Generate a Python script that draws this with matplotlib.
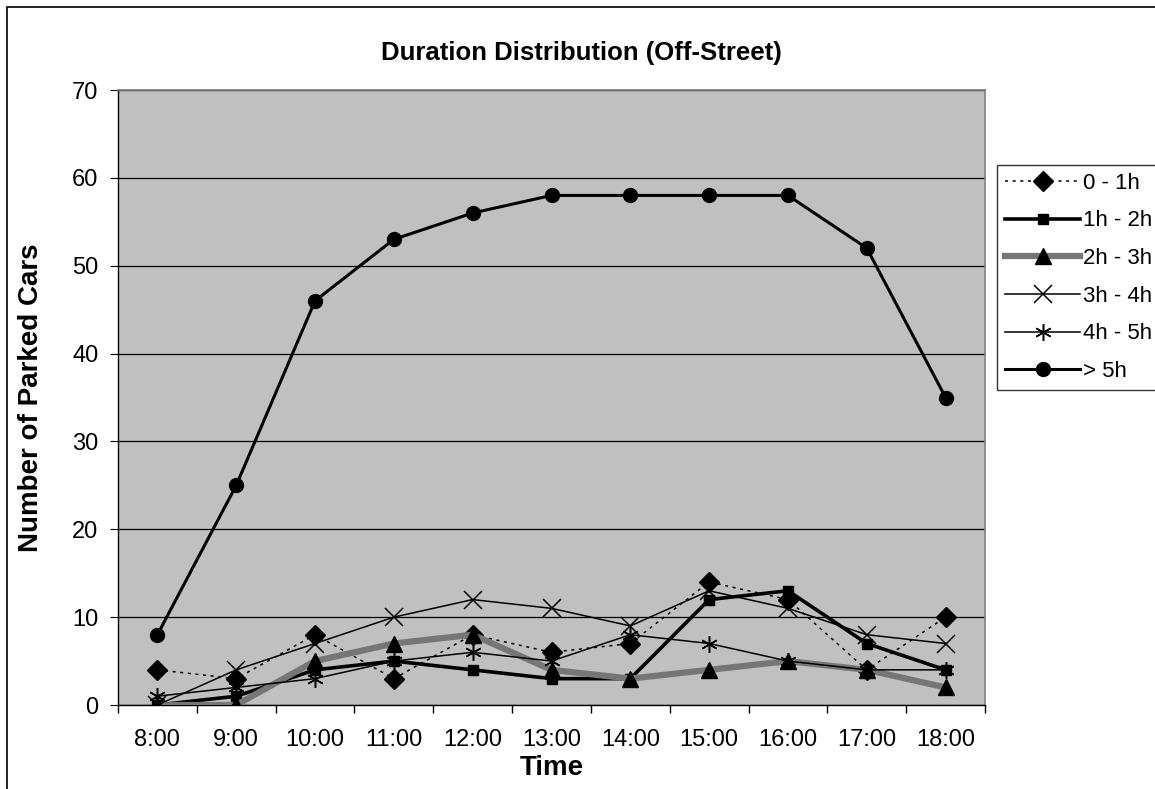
import matplotlib
matplotlib.use('Agg')
import matplotlib.pyplot as plt
from matplotlib.patches import Rectangle

plt.rcParams['font.family'] = ['Liberation Sans', 'DejaVu Sans']

# ===================== DATOS =====================
horas = ['8:00', '9:00', '10:00', '11:00', '12:00', '13:00',
         '14:00', '15:00', '16:00', '17:00', '18:00']
d_0_1 = [4, 3, 8, 3, 8, 6, 7, 14, 12, 4, 10]
d_1_2 = [0, 1, 4, 5, 4, 3, 3, 12, 13, 7, 4]
d_2_3 = [0, 0, 5, 7, 8, 4, 3, 4, 5, 4, 2]
d_3_4 = [0, 4, 7, 10, 12, 11, 9, 13, 11, 8, 7]
d_4_5 = [1, 2, 3, 5, 6, 5, 8, 7, 5, 4, 4]
d_5 = [8, 25, 46, 53, 56, 58, 58, 58, 58, 52, 35]

W, H = 1155, 789
fig = plt.figure(figsize=(W / 100, H / 100), dpi=100)
fig.patch.set_facecolor('white')
# marco exterior del grafico (solo bordes izquierdo y superior visibles)
fig.patches.append(Rectangle((7 / W, -0.1), 1.2, 1.1 - 7 / H,
                             transform=fig.transFigure, fill=False,
                             edgecolor='black', linewidth=1.2))

ax = fig.add_axes([118 / W, 1 - 705 / H, (985 - 118) / W, (705 - 90) / H])
ax.set_facecolor('#c0c0c0')

x = list(range(len(horas)))

ax.plot(x, d_0_1, color='black', linestyle=(0, (2, 3)), linewidth=1.1,
        marker='D', markersize=10, label='0 - 1h', zorder=3)
ax.plot(x, d_1_2, color='black', linewidth=2.6, marker='s', markersize=7.5,
        label='1h - 2h', zorder=3)
ax.plot(x, d_2_3, color='#767676', linewidth=4.5, marker='^', markersize=12,
        markerfacecolor='black', markeredgecolor='black', label='2h - 3h',
        zorder=3)
ax.plot(x, d_3_4, color='black', linewidth=1.1, marker='x', markersize=13,
        markeredgewidth=1.1, label='3h - 4h', zorder=3)
ax.plot(x, d_4_5, color='black', linewidth=1.1, marker=(6, 2, 0),
        markersize=12, markeredgewidth=1.1, label='4h - 5h', zorder=3)
ax.plot(x, d_5, color='black', linewidth=2.2, marker='o', markersize=10,
        label='> 5h', zorder=4)

ax.set_xlim(-0.5, len(horas) - 0.5)
ax.set_ylim(0, 70)
ax.set_yticks(range(0, 71, 10))
ax.yaxis.grid(True, color='black', linewidth=0.9)
ax.set_axisbelow(True)

ax.set_xticks(x)
ax.set_xticklabels(horas, fontsize=17)
ax.set_xticks([i - 0.5 for i in range(len(horas) + 1)], minor=True)
ax.tick_params(axis='x', which='major', length=0, pad=17)
ax.tick_params(axis='x', which='minor', length=6, direction='out', width=1)
ax.tick_params(axis='y', length=6, direction='out', labelsize=17, pad=8)

for s in ['top', 'right']:
    ax.spines[s].set_color('#808080')
    ax.spines[s].set_linewidth(1.2)
for s in ['left', 'bottom']:
    ax.spines[s].set_color('black')
    ax.spines[s].set_linewidth(1)

ax.set_xlabel('Time', fontsize=20, fontweight='bold', labelpad=3)
ax.set_ylabel('Number of Parked Cars', fontsize=20, fontweight='bold',
              labelpad=20)
fig.text(581 / W, 1 - 53 / H, 'Duration Distribution (Off-Street)',
         ha='center', va='center', fontsize=18.5, fontweight='bold')

leg = fig.legend(loc='upper left', bbox_to_anchor=(997 / W, 1 - 165 / H),
                 fontsize=16, frameon=True, fancybox=False, handlelength=3.4,
                 handletextpad=0.1, labelspacing=0.75, borderpad=0.35,
                 borderaxespad=0)
leg.get_frame().set_edgecolor('black')
leg.get_frame().set_linewidth(1)

fig.savefig('out.png', dpi=100)
